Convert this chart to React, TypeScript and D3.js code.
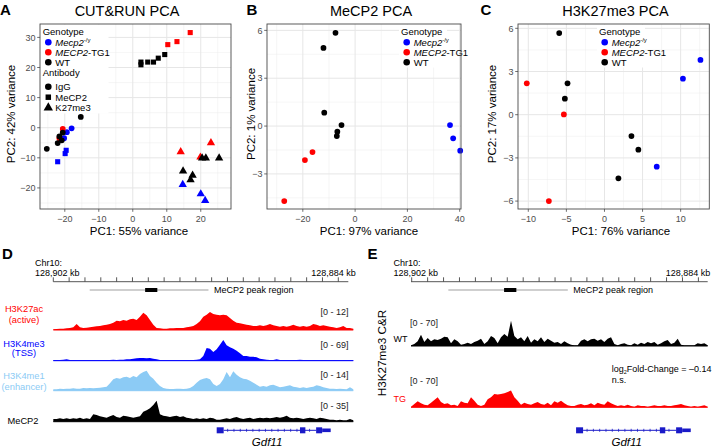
import React from 'react';
import * as d3 from 'd3';

const FONT = '"Liberation Sans", Arial, Helvetica, sans-serif';
const RED = '#ff0000';
const BLUE = '#0000ff';
const BLACK = '#000000';
const LIGHTBLUE = '#8ccbf5';
const GENE = '#1a1ac8';

// ---------- Panel A: CUT&RUN PCA (PC1, PC2) ----------
const aIgGKO = [[-18.0, -0.2], [-19.4, -1.5], [-20.2, -3.5]];
const aIgGTG = [[-20.6, -0.4], [-21.6, -3.5]];
const aIgGWT = [[-15.3, 3.6], [-20.6, -1.6], [-21.6, -2.9], [-22.1, -5.1], [-20.9, -4.2], [-25.3, -7.0]];
const aMeCP2KO = [[-19.6, -7.5], [-19.9, -8.6], [-22.1, -11.3]];
const aMeCP2TG = [[10.3, 27.6], [13.0, 28.6], [16.9, 31.6]];
const aMeCP2WT = [[2.4, 21.8], [2.4, 20.9], [4.4, 21.8], [6.1, 21.8], [7.5, 23.1], [9.4, 24.3]];
const aK27KO = [[14.7, -18.9], [20.0, -22.0], [21.3, -24.2]];
const aK27TG = [[14.1, -8.0], [19.9, -9.8], [23.0, -5.0]];
const aK27WT = [[20.4, -10.1], [21.5, -10.1], [25.4, -10.1], [14.8, -14.4], [17.6, -15.8], [17.0, -17.3]];
const aXTicks = [-20, -10, 0, 10, 20];
const aYTicks = [-20, -10, 0, 10, 20, 30];
const aXMinor = [-25, -15, -5, 5, 15, 25];
const aYMinor = [-25, -15, -5, 5, 15, 25];

// ---------- Panel B: MeCP2 PCA ----------
const bKO = [[36.3, 0.06], [37.5, -0.77], [40.2, -1.54]];
const bTG = [[-16.3, -1.63], [-19.2, -2.13], [-27.1, -4.7]];
const bWT = [[-7.5, 5.85], [-12.1, 4.9], [-11.8, 0.84], [-5.2, 0.06], [-6.8, -0.35], [-7.0, -0.63]];
const bXTicks = [-20, 0, 20, 40];
const bYTicks = [-3, 0, 3, 6];
const bXMinor = [-30, -10, 10, 30];
const bYMinor = [-4.5, -1.5, 1.5, 4.5];

// ---------- Panel C: H3K27me3 PCA ----------
const cKO = [[12.6, 3.8], [10.3, 2.5], [6.86, -3.61]];
const cTG = [[-10.2, 2.18], [-5.33, 0.02], [-7.3, -6.0]];
const cWT = [[-5.94, 5.67], [-4.85, 2.18], [-5.2, 1.11], [3.54, -1.48], [4.45, -2.43], [1.83, -4.42]];
const cXTicks = [-10, -5, 0, 5, 10];
const cYTicks = [-6, -3, 0, 3, 6];
const cXMinor = [-7.5, -2.5, 2.5, 7.5, 12.5];
const cYMinor = [-4.5, -1.5, 1.5, 4.5];

// ---------- Panel D: browser tracks (coverage, arbitrary units) ----------
const h3k27ac = [2, 3, 4, 4, 5, 6, 8, 18, 8, 6, 7, 8, 10, 11, 12, 14, 16, 18, 22, 28, 26, 30, 28, 32, 34, 30, 40, 52, 44, 30, 16, 6, 5, 4, 4, 5, 5, 6, 6, 6, 8, 10, 12, 18, 26, 40, 46, 54, 48, 46, 44, 46, 44, 36, 28, 22, 20, 18, 16, 14, 12, 12, 14, 12, 14, 18, 14, 12, 10, 12, 10, 12, 16, 12, 10, 12, 10, 12, 18, 16, 12, 14, 12, 10, 8, 6, 8, 12, 6, 6, 4];
const h3k4me3 = [2, 2, 2, 3, 4, 2, 2, 2, 2, 2, 2, 2, 2, 2, 2, 2, 2, 2, 3, 2, 3, 3, 4, 4, 6, 7, 8, 8, 7, 8, 6, 4, 2, 2, 2, 2, 2, 2, 2, 2, 2, 2, 2, 3, 4, 14, 38, 36, 26, 34, 48, 62, 46, 40, 36, 30, 22, 14, 14, 12, 12, 10, 6, 4, 3, 2, 2, 4, 2, 2, 2, 2, 2, 2, 3, 2, 2, 2, 2, 2, 2, 2, 2, 2, 2, 2, 2, 2, 2, 2, 2];
const h3k4me1 = [4, 4, 6, 5, 6, 6, 7, 6, 6, 8, 7, 8, 7, 8, 9, 10, 12, 22, 34, 38, 36, 40, 42, 38, 44, 40, 50, 56, 60, 44, 36, 24, 14, 8, 6, 5, 5, 6, 6, 5, 6, 8, 14, 24, 32, 36, 38, 34, 20, 14, 20, 34, 56, 40, 58, 48, 40, 36, 34, 30, 24, 18, 12, 14, 12, 16, 18, 14, 10, 12, 14, 16, 12, 10, 8, 10, 8, 10, 12, 16, 14, 10, 8, 6, 6, 5, 6, 5, 4, 10, 4];
const mecp2 = [8, 8, 10, 8, 10, 8, 10, 9, 12, 8, 10, 8, 22, 20, 16, 14, 12, 16, 20, 14, 12, 18, 16, 14, 12, 14, 16, 30, 34, 40, 50, 63, 22, 18, 16, 14, 16, 18, 14, 16, 12, 10, 8, 10, 8, 10, 8, 12, 10, 6, 6, 8, 10, 8, 12, 14, 10, 8, 10, 12, 8, 10, 12, 10, 12, 10, 12, 14, 12, 14, 18, 12, 10, 12, 10, 8, 10, 12, 10, 8, 12, 10, 8, 6, 6, 4, 6, 4, 4, 8, 4];

// ---------- Panel E: H3K27me3 C&R tracks ----------
const k27WT = [2, 6, 14, 34, 12, 24, 14, 20, 18, 22, 28, 26, 8, 20, 14, 4, 6, 10, 6, 12, 16, 22, 6, 14, 30, 24, 8, 26, 36, 28, 76, 30, 20, 26, 14, 30, 10, 20, 14, 26, 12, 22, 16, 10, 12, 6, 14, 8, 4, 2, 2, 16, 20, 14, 20, 22, 16, 20, 12, 22, 26, 6, 2, 6, 8, 4, 2, 8, 4, 10, 6, 12, 8, 12, 4, 8, 14, 18, 6, 10, 22, 4, 2, 2, 2, 2, 8, 6, 8, 2];
const k27TG = [2, 10, 18, 12, 8, 6, 14, 22, 30, 16, 10, 12, 6, 8, 4, 18, 14, 12, 30, 20, 8, 4, 8, 24, 30, 40, 38, 40, 42, 46, 50, 30, 20, 8, 14, 10, 8, 12, 16, 10, 8, 14, 6, 18, 14, 20, 12, 6, 4, 4, 8, 10, 6, 8, 12, 6, 14, 10, 8, 18, 12, 8, 4, 6, 4, 8, 4, 2, 6, 4, 4, 2, 4, 6, 4, 4, 6, 4, 4, 6, 8, 10, 6, 4, 2, 4, 2, 4, 6, 2];

// gene / region annotations (kb from 128,902 kb)
const rulerTicksKb = [0, 1, 2, 3, 4, 5, 6, 7, 8, 9, 10, 11, 12, 13, 14, 15, 16, 17, 18];
const peakRegionKb = [2.3, 9.8];
const peakCoreKb = [5.8, 6.57];
const geneExonsKb = [[10.32, 10.76], [15.58, 15.92], [16.6, 16.98]];
const geneUtrKb = [[16.98, 17.52]];
const intronKb = [10.76, 16.6];

type Shape = 'circle' | 'square' | 'triangle';
function symbolPath(shape: Shape, size: number) {
  const t = shape === 'circle' ? d3.symbolCircle : shape === 'square' ? d3.symbolSquare : d3.symbolTriangle;
  return d3.symbol().type(t).size(size)() as string;
}
const SIZES: Record<Shape, number> = { circle: 26, square: 26, triangle: 30 };

interface Series { pts: number[][]; color: string; shape: Shape }

function Genotype({ x, y }: { x: number; y: number }) {
  return (
    <g fontFamily={FONT} fontSize={9.5}>
      <text x={x - 5.6} y={y - 7}>Genotype</text>
      <path d={symbolPath('circle', 34)} transform={`translate(${x},${y})`} fill={BLUE} />
      <text x={x + 7} y={y + 3.3}>
        <tspan fontStyle="italic">Mecp2</tspan>
        <tspan fontSize={6} dy={-3.5}>-/y</tspan>
      </text>
      <path d={symbolPath('circle', 34)} transform={`translate(${x},${y + 10})`} fill={RED} />
      <text x={x + 7} y={y + 13.3}>
        <tspan fontStyle="italic">MECP2</tspan>
        <tspan>-TG1</tspan>
      </text>
      <path d={symbolPath('circle', 34)} transform={`translate(${x},${y + 20})`} fill={BLACK} />
      <text x={x + 7} y={y + 23.3}>WT</text>
    </g>
  );
}

function Pca(p: {
  l: number; r: number; t: number; b: number;
  xDomain: number[]; yDomain: number[];
  xTicks: number[]; yTicks: number[]; xMinor: number[]; yMinor: number[];
  series: Series[]; title: string; titleX: number; xLabel: string; xLabelX: number;
  yLabel: string; yLabelX: number; legendRect: number[]; children?: React.ReactNode;
}) {
  const x = d3.scaleLinear().domain(p.xDomain).range([p.l, p.r]);
  const y = d3.scaleLinear().domain(p.yDomain).range([p.b, p.t]);
  const fmt = (v: number) => (v < 0 ? '\u2212' + Math.abs(v) : String(v));
  const [lx, ly, lw, lh] = p.legendRect;
  return (
    <g fontFamily={FONT}>
      <rect x={p.l} y={p.t} width={p.r - p.l} height={p.b - p.t} fill="#fff" />
      {p.xMinor.map((v) => (
        <line key={'xm' + v} x1={x(v)} x2={x(v)} y1={p.t} y2={p.b} stroke="#ededed" strokeWidth={0.5} />
      ))}
      {p.yMinor.map((v) => (
        <line key={'ym' + v} y1={y(v)} y2={y(v)} x1={p.l} x2={p.r} stroke="#ededed" strokeWidth={0.5} />
      ))}
      {p.xTicks.map((v) => (
        <line key={'xg' + v} x1={x(v)} x2={x(v)} y1={p.t} y2={p.b} stroke="#e6e6e6" strokeWidth={1} />
      ))}
      {p.yTicks.map((v) => (
        <line key={'yg' + v} y1={y(v)} y2={y(v)} x1={p.l} x2={p.r} stroke="#e6e6e6" strokeWidth={1} />
      ))}
      <rect x={lx} y={ly} width={lw} height={lh} fill="#fff" />
      {p.children}
      {p.series.map((s, si) =>
        s.pts.map((d, i) => (
          <path
            key={si + '-' + i}
            d={symbolPath(s.shape, SIZES[s.shape])}
            transform={`translate(${x(d[0])},${y(d[1])})`}
            fill={s.color}
          />
        ))
      )}
      <rect x={p.l} y={p.t} width={p.r - p.l} height={p.b - p.t} fill="none" stroke="#4a4a4a" strokeWidth={0.9} />
      {p.xTicks.map((v) => (
        <g key={'xt' + v}>
          <line x1={x(v)} x2={x(v)} y1={p.b} y2={p.b + 2.8} stroke="#4a4a4a" strokeWidth={0.8} />
          <text x={x(v)} y={p.b + 12.5} fontSize={9} fill="#4d4d4d" textAnchor="middle">{fmt(v)}</text>
        </g>
      ))}
      {p.yTicks.map((v) => (
        <g key={'yt' + v}>
          <line x1={p.l - 2.8} x2={p.l} y1={y(v)} y2={y(v)} stroke="#4a4a4a" strokeWidth={0.8} />
          <text x={p.l - 4.5} y={y(v) + 3.2} fontSize={9} fill="#4d4d4d" textAnchor="end">{fmt(v)}</text>
        </g>
      ))}
      <text x={p.titleX} y={16} fontSize={14.5} textAnchor="middle">{p.title}</text>
      <text x={p.xLabelX} y={235} fontSize={11.5} textAnchor="middle">{p.xLabel}</text>
      <text transform={`translate(${p.yLabelX},114) rotate(-90)`} fontSize={11.5} textAnchor="middle">{p.yLabel}</text>
    </g>
  );
}

function Track({ values, x0, x1, base, h, max, color }: { values: number[]; x0: number; x1: number; base: number; h: number; max: number; color: string }) {
  const xs = d3.scaleLinear().domain([0, values.length - 1]).range([x0, x1]);
  const ys = d3.scaleLinear().domain([0, max]).range([base, base - h]);
  const area = d3.area<number>().x((_, i) => xs(i)).y0(base).y1((d) => ys(d)).curve(d3.curveLinear);
  return (
    <g>
      <path d={area(values) as string} fill={color} />
      <line x1={x0} x2={x1} y1={base} y2={base} stroke={color} strokeWidth={1} />
    </g>
  );
}

function Browser({ gx, lineEnd, trackX, letter, letterX }: { gx: d3.ScaleLinear<number, number>; lineEnd: number; trackX: number[]; letter: string; letterX: number }) {
  const rulerY = 281.7;
  const geneY = 430.3;
  const intronMarks = d3.range(gx(intronKb[0]) + 4, gx(intronKb[1]) - 2, 6.3);
  return (
    <g fontFamily={FONT}>
      <text x={letterX} y={258.5} fontSize={15} fontWeight="bold">{letter}</text>
      <text x={gx(0) - 18.3} y={266} fontSize={9}>Chr10:</text>
      <text x={gx(0) - 18.3} y={275.5} fontSize={9}>128,902 kb</text>
      <text x={trackX[1] + 2.5} y={275.5} fontSize={9} textAnchor="end">128,884 kb</text>
      <line x1={trackX[0]} x2={lineEnd} y1={rulerY} y2={rulerY} stroke="#444" strokeWidth={0.9} />
      {rulerTicksKb.map((k) => (
        <line key={k} x1={gx(k)} x2={gx(k)} y1={rulerY - 4.4} y2={rulerY} stroke="#444" strokeWidth={0.9} />
      ))}
      <line x1={gx(peakRegionKb[0])} x2={gx(peakRegionKb[1])} y1={290} y2={290} stroke="#cfcfcf" strokeWidth={1.8} />
      <rect x={gx(peakCoreKb[0])} y={288} width={gx(peakCoreKb[1]) - gx(peakCoreKb[0])} height={4} fill="#000" />
      <text x={gx(10.15)} y={293.3} fontSize={9}>MeCP2 peak region</text>
      {/* gene model */}
      <line x1={gx(intronKb[0])} x2={gx(intronKb[1])} y1={geneY} y2={geneY} stroke={GENE} strokeWidth={1} />
      {intronMarks.map((m, i) => (
        <line key={i} x1={m} x2={m} y1={geneY - 1.5} y2={geneY + 1.5} stroke={GENE} strokeWidth={0.8} />
      ))}
      {geneExonsKb.map((e, i) => (
        <rect key={i} x={gx(e[0])} y={geneY - 3} width={gx(e[1]) - gx(e[0])} height={6} fill={GENE} />
      ))}
      {geneUtrKb.map((e, i) => (
        <rect key={i} x={gx(e[0])} y={geneY - 1.8} width={gx(e[1]) - gx(e[0])} height={3.6} fill={GENE} />
      ))}
      <text x={gx(13.5)} y={446} fontSize={11.5} fontStyle="italic" textAnchor="middle">Gdf11</text>
    </g>
  );
}

export default function App() {
  const gxD = d3.scaleLinear().domain([0, 18]).range([53.3, 338.3]);
  const gxE = d3.scaleLinear().domain([0, 18]).range([411.7, 698.4]);
  const dX = [53.3, 353.3];
  const eX = [411, 707.7];
  return (
    <svg
      width={713}
      height={447}
      viewBox="0 0 713 447"
      style={{ position: 'absolute', left: 0, top: 0, background: '#fff' }}
      fontFamily={FONT}
    >
      <rect width={713} height={447} fill="#fff" />
      {/* Panel letters */}
      <text x={0} y={14.5} fontSize={15} fontWeight="bold">A</text>
      <text x={246.5} y={14.5} fontSize={15} fontWeight="bold">B</text>
      <text x={480.5} y={14.5} fontSize={15} fontWeight="bold">C</text>

      <Pca
        l={40} r={231} t={24} b={209}
        xDomain={[-27.3, 28.9]} yDomain={[-27.0, 34.45]}
        xTicks={aXTicks} yTicks={aYTicks} xMinor={aXMinor} yMinor={aYMinor}
        series={[
          { pts: aIgGKO, color: BLUE, shape: 'circle' },
          { pts: aIgGTG, color: RED, shape: 'circle' },
          { pts: aIgGWT, color: BLACK, shape: 'circle' },
          { pts: aMeCP2KO, color: BLUE, shape: 'square' },
          { pts: aMeCP2TG, color: RED, shape: 'square' },
          { pts: aMeCP2WT, color: BLACK, shape: 'square' },
          { pts: aK27KO, color: BLUE, shape: 'triangle' },
          { pts: aK27TG, color: RED, shape: 'triangle' },
          { pts: aK27WT, color: BLACK, shape: 'triangle' },
        ]}
        title="CUT&RUN PCA" titleX={127}
        xLabel="PC1: 55% variance" xLabelX={139}
        yLabel="PC2: 42% variance" yLabelX={15}
        legendRect={[40.5, 24.5, 68, 89]}
      >
        <Genotype x={48.3} y={42.3} />
        <g fontSize={9.5}>
          <text x={42.7} y={76}>Antibody</text>
          <path d={symbolPath('circle', 34)} transform="translate(48.3,86.7)" fill={BLACK} />
          <text x={55.3} y={90}>IgG</text>
          <path d={symbolPath('square', 30)} transform="translate(48.3,97.2)" fill={BLACK} />
          <text x={55.3} y={100.5}>MeCP2</text>
          <path d={symbolPath('triangle', 38)} transform="translate(48.3,107.7)" fill={BLACK} />
          <text x={55.3} y={111}>K27me3</text>
        </g>
      </Pca>

      <Pca
        l={267} r={461} t={24} b={209}
        xDomain={[-33.7, 40.5]} yDomain={[-5.2, 6.4]}
        xTicks={bXTicks} yTicks={bYTicks} xMinor={bXMinor} yMinor={bYMinor}
        series={[
          { pts: bKO, color: BLUE, shape: 'circle' },
          { pts: bTG, color: RED, shape: 'circle' },
          { pts: bWT, color: BLACK, shape: 'circle' },
        ]}
        title="MeCP2 PCA" titleX={371}
        xLabel="PC1: 97% variance" xLabelX={369}
        yLabel="PC2: 1% variance" yLabelX={255}
        legendRect={[399, 24.5, 48, 43]}
      >
        <Genotype x={406.7} y={42.3} />
      </Pca>

      <Pca
        l={518} r={709.3} t={24} b={209}
        xDomain={[-11.35, 13.76]} yDomain={[-6.55, 6.3]}
        xTicks={cXTicks} yTicks={cYTicks} xMinor={cXMinor} yMinor={cYMinor}
        series={[
          { pts: cKO, color: BLUE, shape: 'circle' },
          { pts: cTG, color: RED, shape: 'circle' },
          { pts: cWT, color: BLACK, shape: 'circle' },
        ]}
        title="H3K27me3 PCA" titleX={615.5}
        xLabel="PC1: 76% variance" xLabelX={621}
        yLabel="PC2: 17% variance" yLabelX={496}
        legendRect={[597, 24.5, 48, 43]}
      >
        <Genotype x={604.7} y={42.3} />
      </Pca>

      {/* Panel D */}
      <Browser gx={gxD} lineEnd={348.3} trackX={dX} letter="D" letterX={2} />
      <g fontSize={9.3} textAnchor="middle">
        <text x={24} y={312} fill={RED}>H3K27ac</text>
        <text x={24} y={322.5} fill={RED}>(active)</text>
        <text x={24} y={347} fill={BLUE}>H3K4me3</text>
        <text x={24} y={355.8} fill={BLUE}>(TSS)</text>
        <text x={24} y={379} fill={LIGHTBLUE}>H3K4me1</text>
        <text x={24} y={390} fill={LIGHTBLUE}>(enhancer)</text>
        <text x={23} y={423.5} fill={BLACK}>MeCP2</text>
      </g>
      <g fontSize={9} textAnchor="end" fill="#222">
        <text x={348.5} y={315}>[0 - 12]</text>
        <text x={348.5} y={347.5}>[0 - 69]</text>
        <text x={348.5} y={378}>[0 - 14]</text>
        <text x={348.5} y={408.5}>[0 - 35]</text>
      </g>
      <Track values={h3k27ac} x0={dX[0]} x1={dX[1]} base={330} h={20} max={60} color={RED} />
      <Track values={h3k4me3} x0={dX[0]} x1={dX[1]} base={360.7} h={20} max={60} color={BLUE} />
      <Track values={h3k4me1} x0={dX[0]} x1={dX[1]} base={390.7} h={20} max={60} color={LIGHTBLUE} />
      <Track values={mecp2} x0={dX[0]} x1={dX[1]} base={421.7} h={20} max={60} color={BLACK} />

      {/* Panel E */}
      <Browser gx={gxE} lineEnd={707.7} trackX={eX} letter="E" letterX={367.5} />
      <text transform="translate(385.5,353) rotate(-90)" fontSize={11.7} textAnchor="middle">H3K27me3 C&amp;R</text>
      <g fontSize={9}>
        <text x={410} y={326} fill="#222">[0 - 70]</text>
        <text x={393.5} y={342} fill={BLACK}>WT</text>
        <text x={410} y={383.5} fill="#222">[0 - 70]</text>
        <text x={393.5} y={401.5} fill={RED}>TG</text>
        <text x={611.7} y={372}>
          <tspan>log</tspan>
          <tspan fontSize={5.5} dy={2}>2</tspan>
          <tspan dy={-2}>Fold-Change = </tspan>
          <tspan>{'\u20130.14'}</tspan>
        </text>
        <text x={611.7} y={383}>n.s.</text>
      </g>
      <Track values={k27WT} x0={eX[0]} x1={eX[1]} base={346} h={26.7} max={80} color={BLACK} />
      <Track values={k27TG} x0={eX[0]} x1={eX[1]} base={407.3} h={26.7} max={80} color={RED} />
    </svg>
  );
}
